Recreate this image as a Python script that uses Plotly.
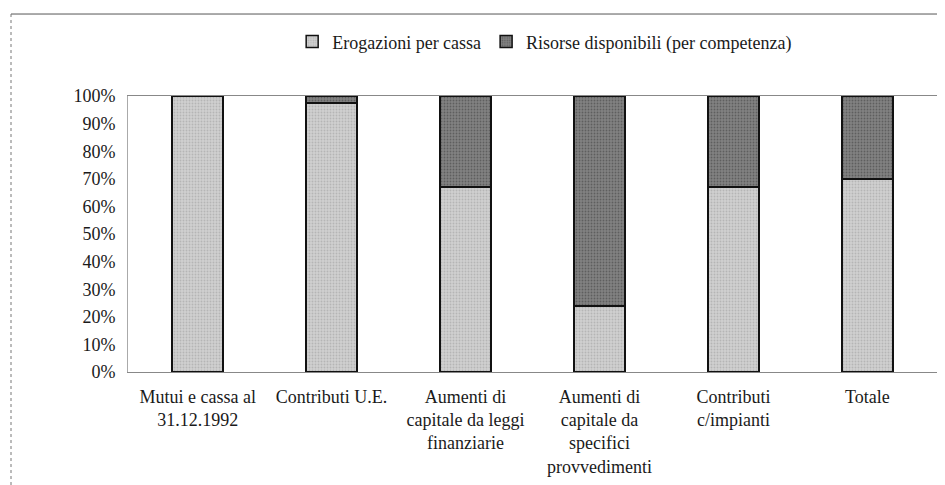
import plotly.graph_objects as go

categories = [
    "Mutui e cassa al<br>31.12.1992",
    "Contributi U.E.",
    "Aumenti di<br>capitale da leggi<br>finanziarie",
    "Aumenti di<br>capitale da<br>specifici<br>provvedimenti",
    "Contributi<br>c/impianti",
    "Totale",
]
erogazioni = [100, 97.5, 67, 24, 67, 70]
risorse = [0, 2.5, 33, 76, 33, 30]
y_ticks = [0, 10, 20, 30, 40, 50, 60, 70, 80, 90, 100]

FONT = "Liberation Serif"

fig = go.Figure()
fig.add_trace(go.Bar(
    x=categories, y=erogazioni, name="Erogazioni per cassa",
    marker=dict(color="#c9c9c9", line=dict(color="#111111", width=1.5),
                pattern=dict(shape=".", fgcolor="#9a9a9a", bgcolor="#d0d0d0", size=3, solidity=0.3)),
))
fig.add_trace(go.Bar(
    x=categories, y=risorse, name="Risorse disponibili (per competenza)",
    marker=dict(color="#7c7c7c", line=dict(color="#111111", width=1.5),
                pattern=dict(shape=".", fgcolor="#3a3a3a", bgcolor="#828282", size=3, solidity=0.3)),
))

# outer chart frame (only top and left edges are in view)
fig.add_shape(type="line", xref="paper", yref="paper",
              x0=-0.1432, x1=1.02, y0=1.297, y1=1.297,
              line=dict(color="#555555", width=1))
fig.add_shape(type="line", xref="paper", yref="paper",
              x0=-0.1432, x1=-0.1432, y0=1.297, y1=-0.45,
              line=dict(color="#777777", width=1, dash="dot"))

fig.update_layout(
    width=945, height=485,
    margin=dict(l=120, r=8, t=88, b=121, autoexpand=False),
    barmode="stack", bargap=0.62,
    plot_bgcolor="white", paper_bgcolor="white",
    font=dict(family=FONT, size=18, color="#1a1a1a"),
    showlegend=True,
    legend=dict(orientation="h", x=0.51, xanchor="center", y=1.196, yanchor="middle",
                font=dict(family=FONT, size=18), traceorder="normal", itemwidth=30,
                bgcolor="rgba(0,0,0,0)"),
    xaxis=dict(range=[-0.52, 5.58], showline=True, linecolor="#888888", linewidth=1,
               mirror=True, ticks="", showgrid=False, tickangle=0,
               ticklabelstandoff=8, tickfont=dict(family=FONT, size=18)),
    yaxis=dict(range=[0, 100], tickvals=y_ticks, ticktext=[f"{v}%" for v in y_ticks],
               showgrid=False, showline=True, linecolor="#aaaaaa", linewidth=1,
               zeroline=False, ticks="", ticklabelstandoff=8,
               tickfont=dict(family=FONT, size=18)),
)

fig.write_html("out.html")
